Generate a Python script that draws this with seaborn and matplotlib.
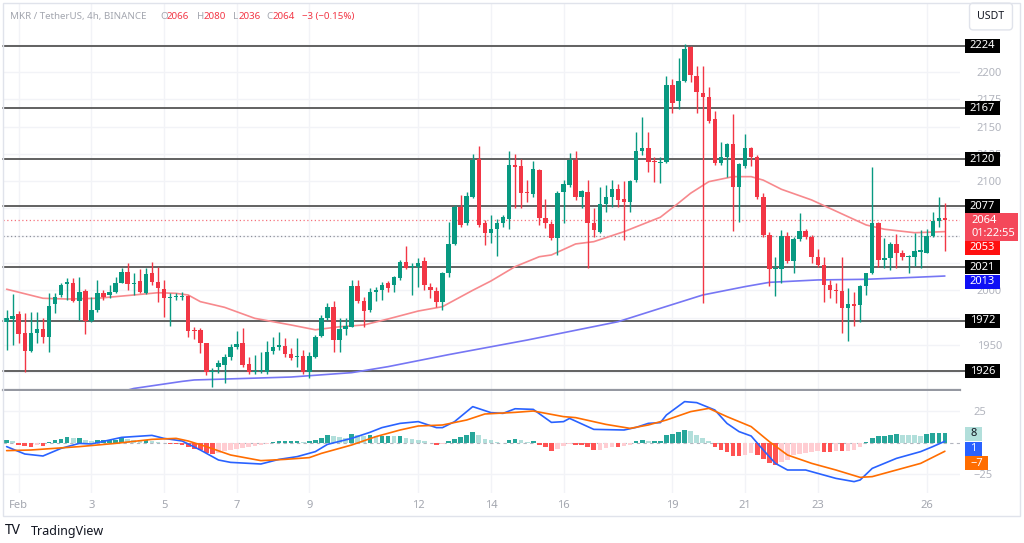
import numpy as np
import pandas as pd
import matplotlib
matplotlib.use("Agg")
import matplotlib.pyplot as plt
from matplotlib.patches import Rectangle
import seaborn as sns

# ---------------- data ----------------
opens = [1971.3, 1973.4, 1978.0, 1961.0, 1944.7, 1960.6, 1964.5, 1956.9, 1987.5, 1995.4,
         2005.8, 2007.0, 1990.5, 1999.4, 1972.2, 1982.0, 1997.8, 1995.7, 1998.8, 2007.0,
         2017.1, 2005.8, 2008.6, 1997.8, 2015.6, 2007.6, 2001.5, 1993.3, 1993.9, 1994.2,
         1994.8, 1963.5, 1963.6, 1951.4, 1925.4, 1929.6, 1931.2, 1939.0, 1948.3, 1951.4,
         1932.4, 1925.4, 1925.6, 1925.4, 1944.6, 1948.4, 1949.0, 1941.6, 1939.0, 1939.8,
         1925.4, 1938.5, 1958.4, 1974.4, 1984.4, 1954.4, 1964.5, 1966.7, 2004.0, 1990.2,
         1982.0, 1998.8, 2000.3, 2007.0, 2004.9, 2011.0, 2026.3, 2021.0, 2021.1, 2026.9,
         2003.4, 1999.4, 1989.0, 2015.6, 2042.5, 2076.1, 2061.4, 2085.9, 2120.1, 2061.4,
         2052.3, 2055.9, 2062.0, 2065.1, 2114.9, 2114.3, 2089.9, 2088.0, 2110.3, 2066.0,
         2060.8, 2047.7, 2090.5, 2096.6, 2119.5, 2085.9, 2090.5, 2062.0, 2053.8, 2079.1,
         2085.3, 2092.9, 2083.4, 2081.3, 2101.2, 2128.0, 2130.2, 2118.9, 2116.4, 2118.0,
         2188.2, 2173.6, 2192.2, 2223.4, 2196.8, 2180.6, 2177.5, 2156.8, 2117.0, 2121.9,
         2133.8, 2095.0, 2114.0, 2130.2, 2122.5, 2085.3, 2050.7, 2019.2, 2019.2, 2049.8,
         2027.1, 2046.7, 2054.6, 2048.5, 2030.2, 2023.2, 2004.8, 2000.2, 1999.6, 1984.0,
         1987.4, 1986.5, 2003.9, 2015.5, 2062.0, 2027.8, 2029.3, 2042.4, 2034.5, 2030.8,
         2030.8, 2035.0, 2034.5, 2049.8, 2063.8, 2066.0]
highs = [1982.0, 1996.6, 1981.0, 1978.9, 1980.4, 1980.4, 1974.3, 1997.2, 1997.8, 2007.0,
         2011.0, 2011.0, 2012.5, 2001.5, 1994.2, 2009.5, 2000.3, 2004.9, 2012.5, 2020.2,
         2024.7, 2015.6, 2019.2, 2020.2, 2025.7, 2021.7, 2009.5, 1997.8, 1997.2, 1998.8,
         1995.7, 1966.0, 1965.2, 1952.0, 1928.5, 1936.0, 1942.0, 1950.5, 1962.9, 1965.0,
         1939.0, 1941.0, 1943.0, 1953.6, 1957.2, 1962.0, 1955.9, 1946.9, 1955.9, 1945.3,
         1943.8, 1959.1, 1977.4, 1988.7, 1990.5, 1974.4, 1974.4, 2009.5, 2009.5, 1993.6,
         2001.8, 2003.4, 2008.0, 2008.9, 2012.7, 2027.8, 2040.6, 2024.8, 2029.3, 2030.3,
         2006.4, 2003.4, 2017.1, 2063.0, 2078.2, 2087.4, 2089.9, 2125.0, 2132.3, 2064.5,
         2069.1, 2065.1, 2069.1, 2128.0, 2125.0, 2120.1, 2101.2, 2118.6, 2110.9, 2083.4,
         2063.9, 2091.4, 2101.2, 2126.2, 2128.0, 2092.0, 2101.2, 2075.2, 2095.0, 2096.6,
         2101.2, 2097.5, 2100.2, 2101.2, 2145.5, 2159.2, 2145.5, 2122.5, 2122.5, 2196.5,
         2193.4, 2212.7, 2225.8, 2224.0, 2205.7, 2205.7, 2186.7, 2164.7, 2136.3, 2134.8,
         2161.7, 2116.4, 2143.0, 2131.7, 2124.1, 2088.9, 2053.7, 2030.8, 2055.3, 2053.7,
         2048.5, 2070.5, 2055.9, 2050.7, 2037.5, 2030.2, 2009.4, 2006.4, 2030.8, 2001.8,
         1998.7, 2004.8, 2016.1, 2112.7, 2062.9, 2047.6, 2044.6, 2051.6, 2036.9, 2032.4,
         2052.2, 2055.0, 2055.9, 2072.1, 2085.8, 2080.0]
lows = [1945.3, 1950.0, 1951.4, 1925.4, 1943.8, 1951.4, 1951.4, 1943.8, 1978.9, 1994.2,
        1991.0, 1989.6, 1972.8, 1960.0, 1971.3, 1980.4, 1991.0, 1992.6, 1997.8, 2006.4,
        2000.3, 1995.7, 1997.2, 1996.6, 2004.9, 1989.6, 1975.2, 1967.3, 1991.0, 1991.0,
        1957.5, 1955.0, 1942.2, 1922.3, 1911.6, 1924.0, 1914.7, 1936.0, 1946.3, 1930.0,
        1923.6, 1923.0, 1924.0, 1923.6, 1941.8, 1945.0, 1939.0, 1936.0, 1930.0, 1923.6,
        1919.3, 1937.7, 1957.5, 1972.8, 1943.8, 1943.8, 1959.0, 1966.0, 1988.0, 1966.0,
        1980.4, 1990.5, 1991.0, 1998.8, 1998.8, 2009.5, 2019.3, 1995.7, 2003.4, 2000.3,
        1992.7, 1984.4, 1982.0, 2012.5, 2041.6, 2058.4, 2059.9, 2084.4, 2058.4, 2041.6,
        2043.1, 2031.5, 2058.4, 2055.9, 2075.2, 2075.2, 2081.3, 2085.9, 2059.9, 2056.9,
        2046.2, 2032.4, 2062.0, 2095.0, 2082.8, 2075.2, 2020.8, 2049.2, 2052.9, 2072.1,
        2076.1, 2076.7, 2046.2, 2072.1, 2099.6, 2124.1, 2108.8, 2099.6, 2098.7, 2117.0,
        2162.9, 2165.9, 2191.3, 2191.3, 2162.3, 1988.0, 2153.7, 2114.9, 2114.9, 2104.2,
        2054.7, 2063.0, 2111.8, 2114.0, 2083.4, 2049.2, 2004.0, 1994.7, 2006.4, 2024.7,
        2016.1, 2045.5, 2046.7, 2024.7, 2021.6, 1989.5, 1992.6, 1988.0, 1961.1, 1953.8,
        1967.2, 1971.2, 1995.7, 2014.9, 2021.6, 2020.1, 2018.6, 2020.1, 2027.8, 2016.1,
        2022.3, 2020.0, 2033.9, 2048.5, 2058.3, 2036.0]
closes = [1974.3, 1976.5, 1960.0, 1944.7, 1961.2, 1964.8, 1956.9, 1985.6, 1994.2, 2004.9,
          2008.0, 1990.5, 1998.5, 1972.2, 1982.0, 1997.8, 1994.2, 1998.8, 2007.0, 2017.1,
          2005.8, 2007.0, 1998.8, 2015.0, 2007.6, 2002.1, 1993.3, 1994.2, 1994.5, 1994.8,
          1962.7, 1962.5, 1951.4, 1925.4, 1926.3, 1933.3, 1939.1, 1947.8, 1950.8, 1931.5,
          1925.4, 1926.3, 1926.5, 1943.4, 1947.8, 1950.2, 1941.3, 1938.2, 1940.0, 1925.4,
          1939.8, 1957.5, 1974.4, 1984.4, 1954.4, 1964.5, 1967.3, 2004.0, 1990.2, 1981.4,
          1998.8, 2000.3, 2004.9, 2001.8, 2012.1, 2026.3, 2020.2, 2021.7, 2025.4, 2004.9,
          2000.3, 1989.0, 2016.2, 2042.5, 2076.1, 2059.9, 2086.8, 2119.5, 2059.9, 2052.3,
          2055.9, 2061.4, 2067.5, 2114.9, 2113.4, 2088.9, 2088.9, 2110.9, 2066.0, 2061.4,
          2047.7, 2089.5, 2097.5, 2119.5, 2085.9, 2091.4, 2062.0, 2055.3, 2079.1, 2085.3,
          2092.6, 2082.8, 2081.3, 2100.2, 2128.0, 2130.2, 2118.0, 2117.4, 2118.0, 2188.2,
          2172.0, 2192.2, 2221.2, 2197.4, 2182.1, 2177.5, 2155.2, 2116.4, 2121.9, 2133.8,
          2095.0, 2115.8, 2130.2, 2122.5, 2085.3, 2050.7, 2019.2, 2020.1, 2049.8, 2027.1,
          2046.7, 2054.6, 2048.5, 2030.2, 2023.2, 2004.8, 2000.2, 1999.3, 1983.4, 1987.4,
          1985.6, 2003.9, 2015.5, 2062.0, 2027.8, 2029.3, 2042.4, 2034.5, 2030.8, 2031.4,
          2036.0, 2036.5, 2049.8, 2063.8, 2066.0, 2064.0]

# moving averages read at sample candles
ma_fast_idx = [0, 6, 10, 15, 21, 25, 28, 30, 32, 36, 41, 47, 51, 55, 59, 63, 68, 72, 77, 80,
               84, 88, 90, 94, 97, 102, 108, 111, 113, 116, 120, 123, 125, 128, 133, 139, 142,
               145, 150, 155]
ma_fast_val = [2001.0, 1992.7, 1992.0, 1992.7, 1995.7, 1997.8, 1997.2, 1995.7, 1989.6, 1984.4,
               1974.3, 1968.2, 1963.8, 1966.6, 1968.2, 1973.7, 1981.0, 1985.0, 2000.0, 2008.5,
               2021.7, 2030.8, 2032.4, 2042.5, 2044.6, 2053.8, 2067.0, 2080.0, 2089.0, 2099.6,
               2104.2, 2104.2, 2101.0, 2092.6, 2082.8, 2067.5, 2059.9, 2056.0, 2052.8, 2053.8]
ma_slow_idx = [20, 21, 29, 31, 37, 47, 57, 63, 73, 86, 101, 108, 115, 122, 126, 134, 142, 150, 155]
ma_slow_val = [1908.5, 1910.0, 1916.5, 1917.8, 1918.8, 1920.5, 1924.5, 1930.0, 1941.0, 1954.4,
               1971.2, 1983.5, 1995.7, 2003.4, 2007.3, 2009.5, 2010.1, 2011.9, 2013.1]

# MACD pane
macd_idx = [0, 3, 6, 9, 12, 14, 19, 24, 26, 29, 32, 35, 37, 42, 45, 48, 51, 53, 57, 60, 62, 65,
            68, 71, 72, 74, 77, 80, 82, 84, 87, 90, 92, 93, 97, 102, 104, 106, 108, 109, 112,
            114, 117, 119, 121, 123, 125, 127, 129, 132, 134, 137, 140, 141, 143, 147, 151,
            153, 155]
macd_val = [-3.3, -9.2, -10.8, -4.7, -0.7, -1.2, 4.1, 5.7, 3.3, 1.2, -6.0, -14.0, -15.9, -17.2,
            -13.5, -11.3, -7.3, -1.5, 3.3, 8.1, 11.9, 15.3, 16.7, 11.9, 11.9, 16.7, 28.7, 23.9,
            23.3, 27.0, 26.5, 16.1, 16.7, 19.3, 10.5, 10.0, 12.1, 15.3, 15.9, 22.0, 32.7, 31.9,
            26.0, 15.3, 8.7, 5.2, -6.0, -16.7, -22.0, -22.0, -24.7, -28.7, -31.3, -30.0, -20.7,
            -12.7, -7.3, -3.3, 1.0]
signal_idx = [0, 4, 12, 18, 24, 28, 30, 33, 37, 42, 46, 50, 52, 57, 61, 65, 68, 72, 76, 79, 84,
              87, 92, 94, 99, 103, 106, 109, 113, 116, 119, 123, 126, 129, 133, 137, 141, 143,
              147, 151, 155]
signal_val = [-6.5, -6.0, -3.3, -0.7, 2.5, 3.3, 1.2, -3.3, -10.0, -14.5, -13.5, -12.1, -8.7,
              -2.0, 4.7, 10.0, 13.2, 14.0, 18.0, 22.8, 24.1, 25.2, 20.7, 19.9, 14.5, 11.3, 14.0,
              18.0, 24.7, 27.3, 20.7, 12.7, 0.7, -10.0, -16.7, -22.0, -27.9, -27.3, -22.0,
              -16.7, -7.0]
hist_val = [1.9, 1.3, -2.1, -2.9, -3.5, -1.6, -2.9, 0.5, 1.9, 3.2,
            4.5, 3.7, 3.7, 2.4, 1.3, 1.9, 1.9, 1.9, 2.4, 3.7,
            3.2, 2.4, 1.9, 1.9, 1.1, 0.5, -0.3, -0.8, -1.3, -2.1,
            -3.5, -4.8, -6.1, -8.3, -8.8, -8.3, -6.7, -5.6, -4.8, -4.0,
            -3.5, -2.9, -2.1, -1.3, 0.5, 1.3, 1.3, 1.3, 1.3, 0.8,
            1.1, 2.4, 4.0, 5.9, 5.1, 4.5, 4.0, 6.7, 5.9, 5.3,
            5.9, 5.3, 5.3, 5.3, 5.1, 5.3, 4.0, 3.2, 2.4, 1.1,
            -0.3, -2.1, -1.3, 1.1, 3.2, 4.5, 5.9, 8.5, 5.9, 3.2,
            1.9, 0.5, -0.3, 1.9, 3.2, 1.9, 0.5, 1.6, -1.6, -3.5,
            -6.7, -4.8, -2.7, -0.8, -1.6, -2.1, -3.5, -6.1, -5.6, -4.3,
            -3.5, -3.5, -2.7, -2.1, 1.1, 1.9, 1.3, 1.3, 1.3, 5.9,
            7.2, 8.5, 10.4, 9.1, 6.4, 4.0, 1.1, -3.5, -6.1, -7.5,
            -10.9, -10.9, -10.1, -8.3, -10.1, -12.8, -16.3, -18.1, -15.5, -13.6,
            -10.1, -8.8, -8.3, -7.5, -6.7, -7.5, -7.5, -6.7, -6.9, -6.7,
            -5.6, -3.5, 0.3, 4.0, 5.1, 5.1, 6.4, 6.7, 6.4, 5.9,
            5.7, 5.3, 6.7, 7.7, 8.0, 8.0]

levels = [2224, 2167, 2120, 2077, 2021, 1972, 1926]
prev_close_line = 2050
price_grid = list(range(1925, 2226, 25))
price_tick_shown = [2200, 2175, 2150, 2125, 2100, 2000, 1950]
day_ticks = [1, 3, 5, 7, 9, 12, 14, 16, 19, 21, 23, 26]
day_labels = ["Feb", "3", "5", "7", "9", "12", "14", "16", "19", "21", "23", "26"]
first_candle = pd.Timestamp("2024-01-31 16:00")
header_change = "\u22123 (\u22120.15%)"
countdown = "01:22:55"

# ---------------- styling ----------------
sns.set_theme(style="white")
plt.rcParams['font.family'] = ['Noto Sans', 'DejaVu Sans']

GREEN, RED = "#089981", "#F23645"
TXT_GRAY = "#A3A6AF"
W, H = 1024, 543
fig = plt.figure(figsize=(W / 100, H / 100), dpi=100)
fig.patch.set_facecolor("white")


def fx(px):
    return px / W


def fy(py):
    return 1 - py / H


LEFT, RIGHT = 3, 960
ax = fig.add_axes([fx(LEFT), fy(390), fx(RIGHT) - fx(LEFT), fy(3) - fy(390)])
axm = fig.add_axes([fx(LEFT), fy(493), fx(RIGHT) - fx(LEFT), fy(391) - fy(493)])

n = len(opens)
idx = np.arange(n)
o, h, l, c = map(np.array, (opens, highs, lows, closes))
times = first_candle + pd.to_timedelta(idx * 4, unit="h")
tick_pos = [int(np.where(times == pd.Timestamp(f"2024-02-{d:02d} 00:00"))[0][0]) for d in day_ticks]

for a in (ax, axm):
    a.set_xlim(-0.6, 157.5)
    a.set_facecolor("white")
    for s in a.spines.values():
        s.set_visible(False)
    a.set_xticks(tick_pos)
    a.grid(axis="x", color="#F2F3F7", lw=1)
    a.set_axisbelow(True)

# price pane
ax.set_ylim(1908.6, 2263.4)
ax.set_yticks(price_grid)
ax.yaxis.tick_right()
ax.tick_params(axis="y", length=0, pad=12, labelsize=8, labelcolor="#B2B5BE")
ax.set_yticklabels([f"{v}" if v in price_tick_shown else "" for v in price_grid])
ax.tick_params(axis="x", length=0, labelbottom=False)
ax.grid(axis="y", color="#F2F3F7", lw=1)
ax.spines["bottom"].set_visible(True)
ax.spines["bottom"].set_color("#9598A1")
ax.spines["bottom"].set_linewidth(1.6)

for lv in levels:
    ax.axhline(lv, xmin=0, xmax=1.006, color="#555555", lw=1.3, zorder=2, clip_on=False)
ax.axhline(closes[-1], color=RED, lw=0.9, ls=(0, (1, 2)), alpha=0.7, zorder=1.8)
ax.axhline(prev_close_line, color="#8E919A", lw=0.9, ls=(0, (1, 2)), zorder=1.8)

sns.lineplot(x=ma_fast_idx, y=ma_fast_val, ax=ax, color="#F7898D", lw=1.2, zorder=2.5)
sns.lineplot(x=ma_slow_idx, y=ma_slow_val, ax=ax, color="#7676F4", lw=1.2, zorder=2.5)

up = c >= o
col = np.where(up, GREEN, RED)
body_lo = np.minimum(o, c)
body_h = np.maximum(np.abs(c - o), 0.9)
ax.vlines(idx, np.minimum(l, body_lo), np.maximum(h, body_lo + body_h), colors=col, lw=1, zorder=3)
ax.bar(idx, body_h, bottom=body_lo, width=0.74, color=col, lw=0, zorder=4)

# MACD pane
axm.set_ylim(-40.4, 41.2)
axm.set_yticks([-25, 25])
axm.yaxis.tick_right()
axm.tick_params(axis="y", length=0, pad=10, labelsize=8, labelcolor="#B2B5BE")
axm.grid(axis="y", color="#F2F3F7", lw=1)
axm.set_xticklabels(day_labels)
axm.tick_params(axis="x", length=0, pad=5, labelsize=8, labelcolor=TXT_GRAY)
axm.axhline(0, color="#B2B5BE", lw=0.8, ls=(0, (3, 3)), zorder=0.8)

hist = np.array(hist_val)
prev = np.concatenate([[hist[0]], hist[:-1]])
hcol = np.where(hist >= 0, np.where(hist >= prev, "#26A69A", "#B2DFDB"),
                np.where(hist <= prev, "#FF5252", "#FFCDD2"))
axm.bar(idx, hist, width=0.76, color=hcol, lw=0, zorder=2)
sns.lineplot(x=macd_idx, y=macd_val, ax=axm, color="#2962FF", lw=1.2, zorder=3)
sns.lineplot(x=signal_idx, y=signal_val, ax=axm, color="#FF6D00", lw=1.2, zorder=3)
axm.set_xlabel("")
axm.set_ylabel("")
ax.set_xlabel("")
ax.set_ylabel("")


# ---------------- right-side labels ----------------
def ypix(a, v):
    return H - a.transData.transform((0, v))[1]


def box(x0, x1, yc, hgt, text, fc, tc, bold=True, ha="center", tx=None):
    fig.patches.append(Rectangle((fx(x0), fy(yc + hgt / 2)), fx(x1) - fx(x0), hgt / H,
                                 transform=fig.transFigure, fc=fc, ec="none", zorder=10))
    if text:
        fig.text(fx(tx if tx is not None else (x0 + x1) / 2), fy(yc), text, ha=ha, va="center",
                 color=tc, fontsize=8, fontweight="bold" if bold else "normal", zorder=11)


for lv in levels:
    box(965, 1000, ypix(ax, lv), 14, f"{lv}", "#000000", "white")

y_last = ypix(ax, closes[-1])
fig.patches.append(Rectangle((fx(965), fy(y_last + 20.5)), fx(1018) - fx(965), 28 / H,
                             transform=fig.transFigure, fc="#F4485A", ec="none", zorder=10))
fig.text(fx(971), fy(y_last), f"{closes[-1]:.0f}", ha="left", va="center", color="white",
         fontsize=8, zorder=11)
fig.text(fx(971), fy(y_last + 13), countdown, ha="left", va="center", color="white",
         fontsize=8, zorder=11)
box(965, 1000, y_last + 27.5, 14, f"{int(ma_fast_val[-1])}", "#FF1010", "white")
box(965, 1000, ypix(ax, 2021) + 14.5, 14, f"{int(ma_slow_val[-1])}", "#1010F5", "white")

y_h = ypix(axm, hist_val[-1]) + 1.5
box(965, 982, y_h, 14, f"{hist_val[-1]:.0f}", "#B2DFDB", "#131722", bold=False)
box(965, 982, y_h + 14.5, 14, f"{macd_val[-1]:.0f}", "#2962FF", "white", bold=False)
box(965, 988, y_h + 29, 14, f"{signal_val[-1]:.0f}".replace("-", "\u2212"), "#FF6D00", "white",
    bold=False)

# ---------------- header, frame, logo ----------------
fig.patches.append(Rectangle((fx(3), fy(516)), fx(1020) - fx(3), 513 / H, transform=fig.transFigure,
                             fc="none", ec="#E0E3EB", lw=1, zorder=12))
HFS = 7.0
fig.text(fx(10.5), fy(16.5), "MKR / TetherUS, 4h, BINANCE", ha="left", va="center",
         color=TXT_GRAY, fontsize=HFS)
hdr = [(160, "O", TXT_GRAY), (167, f"{opens[-1]:.0f}", RED), (197, "H", TXT_GRAY),
       (204, f"{highs[-1]:.0f}", RED), (233.5, "L", TXT_GRAY), (239, f"{lows[-1]:.0f}", RED),
       (266, "C", TXT_GRAY), (273, f"{closes[-1]:.0f}", RED), (302, header_change, RED)]
for xp, t, cc in hdr:
    fig.text(fx(xp), fy(16.5), t, ha="left", va="center", color=cc, fontsize=HFS)

fig.text(fx(991), fy(16.5), "USDT", ha="center", va="center", fontsize=7.6, color="#131722",
         bbox=dict(boxstyle="round,pad=0.75,rounding_size=0.35", fc="white", ec="#E0E3EB", lw=1))

fig.text(fx(5), fy(531), "TV", ha="left", va="center", fontsize=10, fontweight="heavy",
         color="#131722")
fig.text(fx(31), fy(531.5), "TradingView", ha="left", va="center", fontsize=9, color="#131722")

fig.savefig("out.png", dpi=100, facecolor="white")
